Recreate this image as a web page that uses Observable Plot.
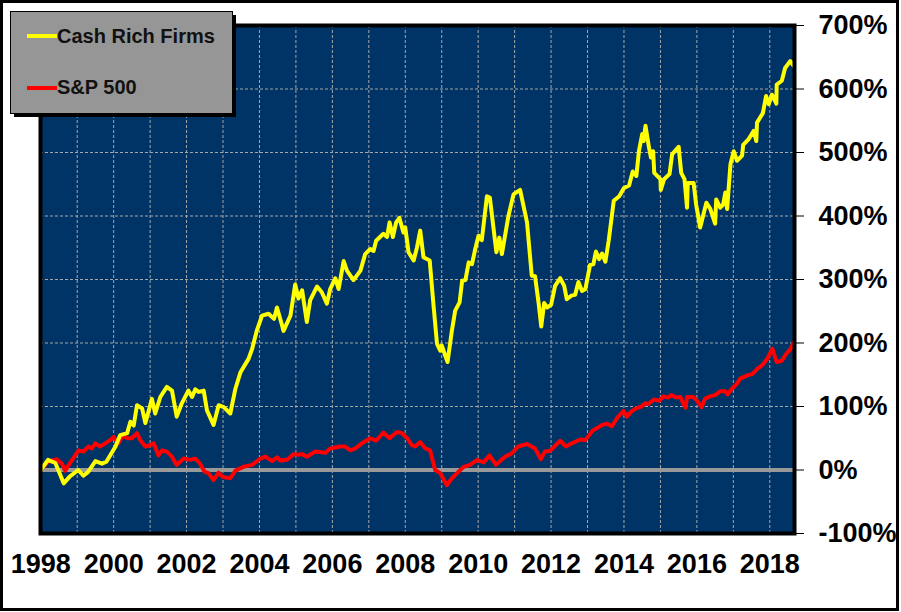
<!DOCTYPE html>
<html><head><meta charset="utf-8">
<script src="https://cdn.jsdelivr.net/npm/d3@7"></script>
<script src="https://cdn.jsdelivr.net/npm/@observablehq/plot@0.6"></script>
<style>
html,body{margin:0;padding:0;background:#fff;}
#chart{position:relative;width:901px;height:612px;}
</style></head><body><div id="chart"></div>
<script>
// Decimal years and cumulative return (%)
const cashYears = [1998.00,1998.20,1998.40,1998.63,1998.80,1999.03,1999.17,1999.30,1999.50,1999.68,1999.80,2000.05,2000.18,2000.37,2000.46,2000.55,2000.64,2000.78,2000.87,2001.05,2001.14,2001.28,2001.46,2001.60,2001.73,2001.87,2002.05,2002.15,2002.24,2002.33,2002.47,2002.56,2002.74,2002.88,2003.02,2003.20,2003.34,2003.48,2003.70,2003.80,2003.93,2004.07,2004.25,2004.40,2004.48,2004.62,2004.66,2004.85,2004.98,2005.07,2005.17,2005.30,2005.39,2005.58,2005.71,2005.85,2005.94,2006.08,2006.17,2006.31,2006.40,2006.58,2006.77,2006.90,2007.04,2007.13,2007.20,2007.40,2007.50,2007.57,2007.66,2007.75,2007.84,2007.95,2008.00,2008.09,2008.23,2008.32,2008.41,2008.50,2008.67,2008.78,2008.87,2008.96,2009.00,2009.16,2009.28,2009.37,2009.49,2009.56,2009.65,2009.74,2009.83,2009.92,2010.01,2010.10,2010.24,2010.32,2010.50,2010.58,2010.65,2010.83,2010.97,2011.15,2011.34,2011.47,2011.56,2011.66,2011.73,2011.81,2011.89,2012.00,2012.11,2012.25,2012.36,2012.43,2012.57,2012.66,2012.75,2012.85,2012.94,2013.07,2013.16,2013.23,2013.32,2013.40,2013.49,2013.58,2013.72,2013.87,2014.00,2014.14,2014.24,2014.34,2014.41,2014.50,2014.54,2014.59,2014.68,2014.74,2014.80,2014.83,2015.00,2015.01,2015.10,2015.25,2015.32,2015.50,2015.57,2015.66,2015.73,2015.75,2015.91,2015.98,2016.09,2016.26,2016.37,2016.50,2016.53,2016.64,2016.72,2016.78,2016.83,2016.92,2017.01,2017.10,2017.24,2017.27,2017.42,2017.56,2017.63,2017.65,2017.81,2017.90,2017.97,2018.06,2018.18,2018.19,2018.33,2018.42,2018.56,2018.65];
const cashValues = [0,16,11,-21,-10,0,-9,-3,14,10,13,37,55,58,76,70,102,97,74,112,89,115,131,125,84,105,125,115,127,123,125,94,71,102,99,89,128,154,175,191,220,243,246,238,256,228,219,243,292,270,283,233,267,289,280,262,285,302,285,329,314,299,314,340,348,345,361,372,367,390,367,390,397,374,382,343,330,350,377,335,330,256,199,188,196,170,220,251,264,298,299,327,324,348,369,362,431,429,343,366,340,400,434,441,390,306,305,262,226,263,256,260,290,302,290,269,275,276,296,282,285,323,324,344,332,341,328,361,424,431,444,448,470,463,502,529,518,542,510,492,502,468,458,441,458,466,497,509,468,458,413,452,452,418,382,421,411,388,426,413,418,437,411,481,502,487,495,512,521,534,518,547,562,589,576,591,577,607,613,633,644,637];

const spYears = [1998.00,1998.20,1998.44,1998.58,1998.67,1998.86,1999.04,1999.17,1999.31,1999.40,1999.50,1999.63,1999.77,1999.90,2000.00,2000.13,2000.26,2000.37,2000.50,2000.64,2000.73,2000.87,2001.00,2001.10,2001.23,2001.33,2001.46,2001.60,2001.73,2001.92,2002.10,2002.24,2002.37,2002.50,2002.60,2002.74,2002.88,2003.00,2003.20,2003.34,2003.56,2003.80,2004.00,2004.16,2004.35,2004.48,2004.57,2004.76,2004.94,2005.07,2005.17,2005.30,2005.53,2005.81,2005.94,2006.22,2006.35,2006.49,2006.63,2006.81,2007.04,2007.20,2007.40,2007.57,2007.77,2007.91,2008.05,2008.18,2008.27,2008.41,2008.55,2008.68,2008.82,2008.96,2009.14,2009.28,2009.42,2009.60,2009.78,2009.97,2010.15,2010.31,2010.49,2010.60,2010.74,2010.92,2011.10,2011.34,2011.56,2011.72,2011.83,2011.97,2012.25,2012.41,2012.57,2012.80,2012.94,2013.14,2013.40,2013.53,2013.67,2013.81,2013.99,2014.08,2014.20,2014.33,2014.48,2014.58,2014.67,2014.82,2014.97,2015.08,2015.21,2015.30,2015.44,2015.55,2015.62,2015.69,2015.73,2015.90,2015.99,2016.13,2016.22,2016.36,2016.50,2016.64,2016.78,2016.84,2016.96,2017.10,2017.19,2017.38,2017.52,2017.65,2017.79,2017.93,2018.07,2018.19,2018.33,2018.45,2018.58,2018.65];
const spValues = [0,13,17,10,-1,16,31,29,37,34,42,37,42,47,52,42,55,50,50,58,47,37,39,42,23,31,29,21,8,18,16,18,10,-3,-5,-16,-4,-11,-13,-1,5,8,17,21,14,20,15,16,25,24,25,21,29,27,34,37,37,31,34,42,50,46,59,50,60,58,50,39,37,44,34,31,0,-5,-24,-13,-5,5,8,16,12,23,8,14,21,26,37,41,34,17,29,30,46,37,42,48,47,62,71,73,69,82,93,84,92,97,100,105,104,111,109,116,114,118,114,115,105,98,115,115,110,99,112,116,118,124,124,119,128,136,144,149,151,159,165,175,191,170,172,183,191,201];

const seriesNames = ["Cash Rich Firms", "S&P 500"];
const seriesColors = ["#ffff00", "#ff0000"];
const xLabelYears = [1998,2000,2002,2004,2006,2008,2010,2012,2014,2016,2018];
const xGridYears = d3.range(1999, 2019);
const yTicks = [-100,0,100,200,300,400,500,600,700];

const cash = cashYears.map((t, i) => ({t, v: cashValues[i]}));
const sp = spYears.map((t, i) => ({t, v: spValues[i]}));

const font = "'Liberation Sans', Arial, Helvetica, sans-serif";

const plot = Plot.plot({
  width: 901,
  height: 612,
  marginLeft: 40,
  marginRight: 107,
  marginTop: 25,
  marginBottom: 79,
  style: {background: "white", fontFamily: font, color: "black", overflow: "visible"},
  x: {domain: [1997.993, 2018.678]},
  y: {domain: [-100, 700]},
  marks: [
    Plot.frame({fill: "#003366"}),
    Plot.gridX(xGridYears, {stroke: "#a8a8a8", strokeOpacity: 1, strokeDasharray: "3,2", strokeWidth: 1}),
    Plot.gridY(yTicks, {stroke: "#a8a8a8", strokeOpacity: 1, strokeDasharray: "3,2", strokeWidth: 1}),
    Plot.ruleY([0], {stroke: "#999999", strokeWidth: 4}),
    Plot.line(sp, {x: "t", y: "v", stroke: seriesColors[1], strokeWidth: 4, strokeLinejoin: "round"}),
    Plot.line(cash, {x: "t", y: "v", stroke: seriesColors[0], strokeWidth: 4, strokeLinejoin: "round"}),
    Plot.frame({stroke: "black", strokeWidth: 4}),
    Plot.axisX(xLabelYears, {tickSize: 0, tickPadding: 20, tickFormat: d => String(d), fontSize: 27, fontWeight: "bold", label: null}),
    Plot.axisY(yTicks, {anchor: "right", tickSize: 9, tickPadding: 15, textAnchor: "start", tickFormat: d => d + "%", fontSize: 27, fontWeight: "bold", label: null})
  ]
});

document.getElementById("chart").appendChild(plot);

const svg = d3.select(plot);
// outer border
svg.append("rect").attr("x", 1.5).attr("y", 1.5).attr("width", 896).attr("height", 608)
  .attr("fill", "none").attr("stroke", "black").attr("stroke-width", 3);

// legend
const lg = svg.append("g").attr("text-anchor", "start");
lg.append("rect").attr("x", 14).attr("y", 15).attr("width", 222).attr("height", 102).attr("fill", "black");
lg.append("rect").attr("x", 10.5).attr("y", 11.5).attr("width", 222).attr("height", 102)
  .attr("fill", "#969696").attr("stroke", "black").attr("stroke-width", 1);
const rows = [{y: 36, ty: 43}, {y: 88, ty: 94}];
seriesNames.forEach((name, i) => {
  lg.append("line").attr("x1", 27).attr("x2", 57).attr("y1", rows[i].y).attr("y2", rows[i].y)
    .attr("stroke", seriesColors[i]).attr("stroke-width", 4);
  lg.append("text").attr("x", 57).attr("y", rows[i].ty).text(name)
    .attr("text-anchor", "start")
    .attr("font-family", font).attr("font-size", 20).attr("font-weight", "bold").attr("fill", "#111");
});
</script>
</body></html>
